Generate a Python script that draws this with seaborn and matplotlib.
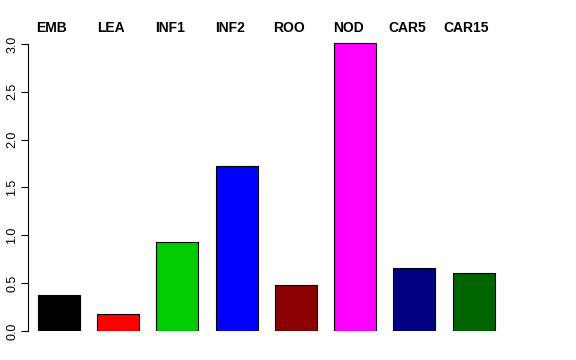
import numpy as np
import pandas as pd
import matplotlib
matplotlib.use('Agg')
import matplotlib.pyplot as plt
import seaborn as sns

# values
tissues = ['EMB', 'LEA', 'INF1', 'INF2', 'ROO', 'NOD', 'CAR5', 'CAR15']
values = [0.38, 0.175, 0.93, 1.725, 0.48, 3.01, 0.66, 0.605]
colors = ['#000000', '#FF0000', '#00CD00', '#0000FF', '#8B0000', '#FF00FF', '#000080', '#006400']
yticks = [0.0, 0.5, 1.0, 1.5, 2.0, 2.5, 3.0]

sns.set_style('white')
plt.rcParams['font.family'] = ['Liberation Sans', 'DejaVu Sans']
plt.rcParams['text.color'] = 'black'
plt.rcParams['ytick.color'] = 'black'
plt.rcParams['ytick.labelcolor'] = 'black'

df = pd.DataFrame({'tissue': tissues, 'value': values})

W, H = 576, 360
fig = plt.figure(figsize=(W / 100, H / 100), dpi=100)
# axes placed in pixel terms: left spine at x=28, zero line at y=331, top at y=20
ax = fig.add_axes([28 / W, (H - 331) / H, (560 - 28) / W, (331 - 20) / H])

sns.barplot(data=df, x='tissue', y='value', hue='tissue', palette=colors,
            legend=False, width=0.71, edgecolor='black', linewidth=0.8,
            saturation=1, ax=ax)

ax.set_xlim(-0.524, 8.46)
ax.set_ylim(0, (331 - 20) / 95.67)

ax.set_yticks(yticks)
ax.set_yticklabels([f'{t:.1f}' for t in yticks], rotation=90, va='center',
                   fontsize=9, color='black')
ax.tick_params(axis='y', direction='out', length=5, width=0.8, left=True,
               pad=2, colors='black')
ax.set_xticks([])
ax.set_xlabel('')
ax.set_ylabel('')

for side in ['top', 'right', 'bottom']:
    ax.spines[side].set_visible(False)
ax.spines['left'].set_bounds(0, 3)
ax.spines['left'].set_color('black')
ax.spines['left'].set_linewidth(0.8)

for i, name in enumerate(tissues):
    ax.text(i - 0.12, 3.17, name, ha='center', va='center', color='black',
            fontsize=10, fontweight='bold', clip_on=False)

fig.savefig('out.png', dpi=100)
